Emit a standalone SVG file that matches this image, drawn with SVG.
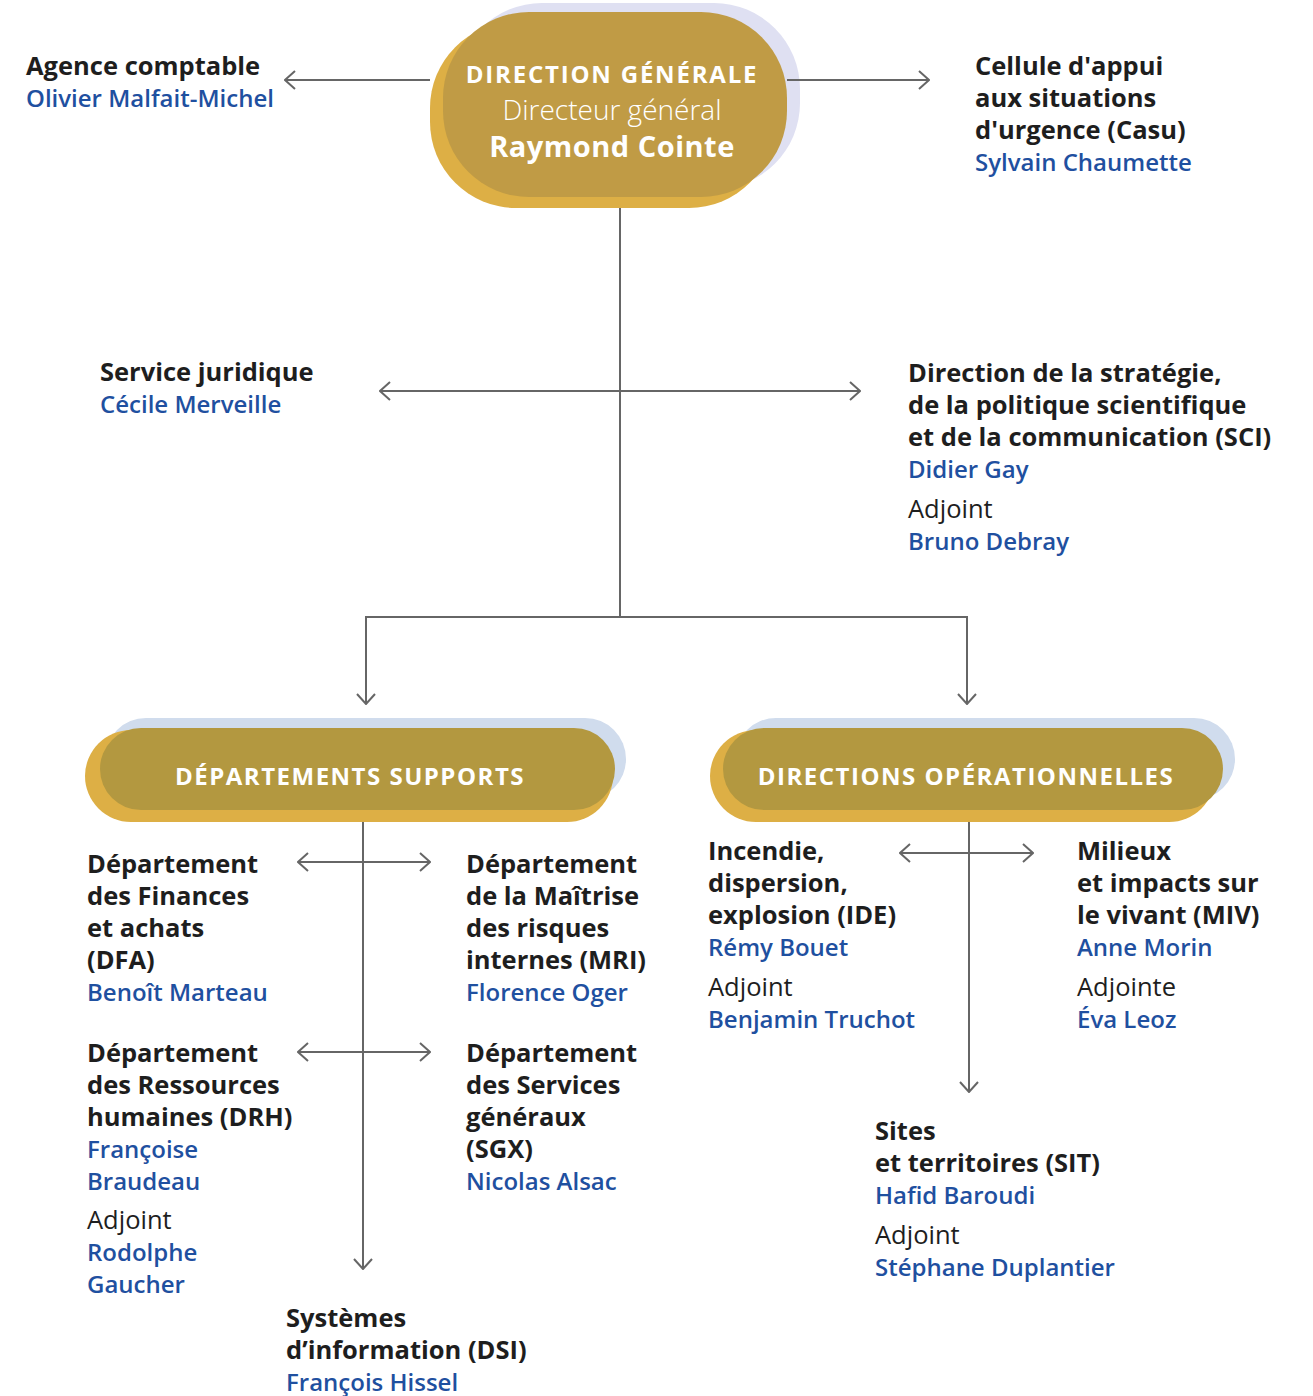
<svg xmlns="http://www.w3.org/2000/svg" width="1313" height="1396" viewBox="0 0 1313 1396">
<defs>
<style>
.t{font-family:"Open Sans","Noto Sans","Liberation Sans",sans-serif;font-size:25.5px;fill:#1e1e1e}
.h{font-weight:700}
.n{font-weight:600;fill:#1f50a0;font-size:24px}
.a{font-weight:500}
.bt{font-family:"Open Sans","Noto Sans","Liberation Sans",sans-serif;fill:#ffffff;text-anchor:middle}
.ln{stroke:#666666;stroke-width:2;fill:none}
.lav{fill:#dfe0f2}
.lav2{fill:#d0dced}
.yel{fill:#ddaf45}
.main{fill:#c09b45}
.main2{fill:#b39840}
</style>
<marker id="ar" viewBox="0 0 12 20" refX="11" refY="10" markerWidth="12" markerHeight="20" markerUnits="userSpaceOnUse" orient="auto-start-reverse">
<path d="M1,1 L11,10 L1,19" stroke="#666666" stroke-width="2" fill="none"/>
</marker>
</defs>
<rect width="1313" height="1396" fill="#ffffff"/>
<g id="direction-generale">
<rect class="lav" x="456" y="3" width="344" height="186" rx="86"/>
<rect class="yel" x="430" y="22" width="345" height="186" rx="86"/>
<rect class="main" x="443" y="12" width="344" height="185" rx="86"/>
<text class="bt" x="612" y="83" font-size="24" font-weight="700" letter-spacing="1.8">DIRECTION GÉNÉRALE</text>
<text class="bt" x="612" y="120" font-size="28" font-weight="300">Directeur général</text>
<text class="bt" x="612" y="157" font-size="29" font-weight="700" letter-spacing="0.5">Raymond Cointe</text>
</g>
<g id="departements-supports">
<rect class="lav2" x="105" y="718" width="521" height="82" rx="41"/>
<rect class="yel" x="85" y="730" width="528" height="92" rx="46"/>
<rect class="main2" x="100" y="728" width="515" height="82" rx="41"/>
<text class="bt" x="350" y="785" font-size="24" font-weight="700" letter-spacing="1.5">DÉPARTEMENTS SUPPORTS</text>
</g>
<g id="directions-operationnelles">
<rect class="lav2" x="735" y="718" width="500" height="82" rx="41"/>
<rect class="yel" x="710" y="730" width="505" height="92" rx="46"/>
<rect class="main2" x="723" y="728" width="500" height="82" rx="41"/>
<text class="bt" x="966" y="785" font-size="24" font-weight="700" letter-spacing="1.5">DIRECTIONS OPÉRATIONNELLES</text>
</g>
<g id="connectors" class="ln">
<line x1="430" y1="80" x2="285" y2="80" marker-end="url(#ar)"/>
<line x1="787" y1="80" x2="929" y2="80" marker-end="url(#ar)"/>
<line x1="620" y1="208" x2="620" y2="617"/>
<line x1="380" y1="391" x2="860" y2="391" marker-start="url(#ar)" marker-end="url(#ar)"/>
<polyline points="366,704 366,617 967,617 967,704" marker-start="url(#ar)" marker-end="url(#ar)"/>
<line x1="363" y1="822" x2="363" y2="1269" marker-end="url(#ar)"/>
<line x1="298" y1="862" x2="430" y2="862" marker-start="url(#ar)" marker-end="url(#ar)"/>
<line x1="298" y1="1052" x2="430" y2="1052" marker-start="url(#ar)" marker-end="url(#ar)"/>
<line x1="969" y1="822" x2="969" y2="1092" marker-end="url(#ar)"/>
<line x1="900" y1="853" x2="1033" y2="853" marker-start="url(#ar)" marker-end="url(#ar)"/>
</g>
<g id="agence-comptable" class="t">
<text x="26" y="75" class="h">Agence comptable</text>
<text x="26" y="107" class="n">Olivier Malfait-Michel</text>
</g>
<g id="casu" class="t">
<text x="975" y="75" class="h">Cellule d'appui</text>
<text x="975" y="107" class="h">aux situations</text>
<text x="975" y="139" class="h">d'urgence (Casu)</text>
<text x="975" y="171" class="n">Sylvain Chaumette</text>
</g>
<g id="service-juridique" class="t">
<text x="100" y="381" class="h">Service juridique</text>
<text x="100" y="413" class="n">Cécile Merveille</text>
</g>
<g id="sci" class="t">
<text x="908" y="382" class="h">Direction de la stratégie,</text>
<text x="908" y="414" class="h">de la politique scientifique</text>
<text x="908" y="446" class="h">et de la communication (SCI)</text>
<text x="908" y="478" class="n">Didier Gay</text>
<text x="908" y="518" class="a">Adjoint</text>
<text x="908" y="550" class="n">Bruno Debray</text>
</g>
<g id="dfa" class="t">
<text x="87" y="873" class="h">Département</text>
<text x="87" y="905" class="h">des Finances</text>
<text x="87" y="937" class="h">et achats</text>
<text x="87" y="969" class="h">(DFA)</text>
<text x="87" y="1001" class="n">Benoît Marteau</text>
</g>
<g id="mri" class="t">
<text x="466" y="873" class="h">Département</text>
<text x="466" y="905" class="h">de la Maîtrise</text>
<text x="466" y="937" class="h">des risques</text>
<text x="466" y="969" class="h">internes (MRI)</text>
<text x="466" y="1001" class="n">Florence Oger</text>
</g>
<g id="drh" class="t">
<text x="87" y="1062" class="h">Département</text>
<text x="87" y="1094" class="h">des Ressources</text>
<text x="87" y="1126" class="h">humaines (DRH)</text>
<text x="87" y="1158" class="n">Françoise</text>
<text x="87" y="1190" class="n">Braudeau</text>
<text x="87" y="1229" class="a">Adjoint</text>
<text x="87" y="1261" class="n">Rodolphe</text>
<text x="87" y="1293" class="n">Gaucher</text>
</g>
<g id="sgx" class="t">
<text x="466" y="1062" class="h">Département</text>
<text x="466" y="1094" class="h">des Services</text>
<text x="466" y="1126" class="h">généraux</text>
<text x="466" y="1158" class="h">(SGX)</text>
<text x="466" y="1190" class="n">Nicolas Alsac</text>
</g>
<g id="dsi" class="t">
<text x="286" y="1327" class="h">Systèmes</text>
<text x="286" y="1359" class="h">d’information (DSI)</text>
<text x="286" y="1391" class="n">François Hissel</text>
</g>
<g id="ide" class="t">
<text x="708" y="860" class="h">Incendie,</text>
<text x="708" y="892" class="h">dispersion,</text>
<text x="708" y="924" class="h">explosion (IDE)</text>
<text x="708" y="956" class="n">Rémy Bouet</text>
<text x="708" y="996" class="a">Adjoint</text>
<text x="708" y="1028" class="n">Benjamin Truchot</text>
</g>
<g id="miv" class="t">
<text x="1077" y="860" class="h">Milieux</text>
<text x="1077" y="892" class="h">et impacts sur</text>
<text x="1077" y="924" class="h">le vivant (MIV)</text>
<text x="1077" y="956" class="n">Anne Morin</text>
<text x="1077" y="996" class="a">Adjointe</text>
<text x="1077" y="1028" class="n">Éva Leoz</text>
</g>
<g id="sit" class="t">
<text x="875" y="1140" class="h">Sites</text>
<text x="875" y="1172" class="h">et territoires (SIT)</text>
<text x="875" y="1204" class="n">Hafid Baroudi</text>
<text x="875" y="1244" class="a">Adjoint</text>
<text x="875" y="1276" class="n">Stéphane Duplantier</text>
</g>
</svg>
